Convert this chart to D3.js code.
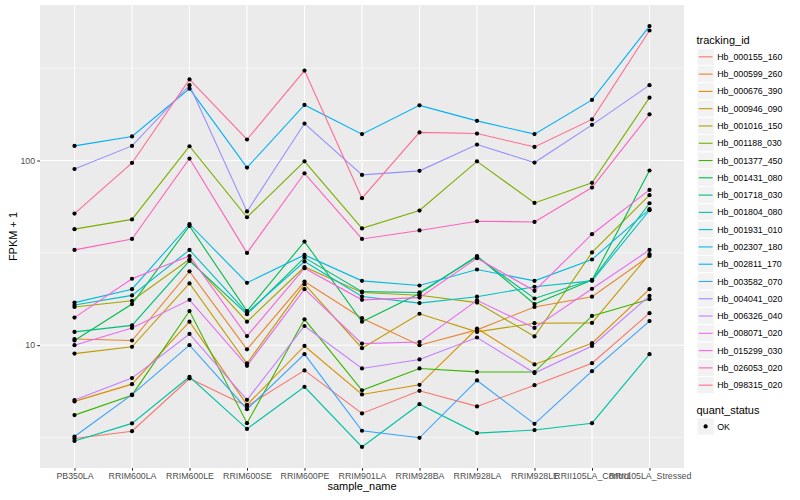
<!DOCTYPE html>
<html><head><meta charset="utf-8">
<script src="https://cdn.jsdelivr.net/npm/d3@7"></script>
<style>
body{margin:0;background:#fff}
svg{display:block}
text{font-family:"Liberation Sans",Arial,Helvetica,sans-serif}
</style>
</head><body>
<svg id="chart" width="800" height="500"></svg>
<script>
// ---------- data ----------
const categories = ["PB350LA","RRIM600LA","RRIM600LE","RRIM600SE","RRIM600PE","RRIM901LA",
  "RRIM928BA","RRIM928LA","RRIM928LE","RRII105LA_Control","RRII105LA_Stressed"];

const trackingIds = ["Hb_000155_160","Hb_000599_260","Hb_000676_390","Hb_000946_090","Hb_001016_150",
  "Hb_001188_030","Hb_001377_450","Hb_001431_080","Hb_001718_030","Hb_001804_080","Hb_001931_010",
  "Hb_002307_180","Hb_002811_170","Hb_003582_070","Hb_004041_020","Hb_006326_040","Hb_008071_020",
  "Hb_015299_030","Hb_026053_020","Hb_098315_020"];

const Hb_000155_160 = [3.12, 3.42, 6.6, 4.67, 7.3, 4.27, 5.66, 4.66, 6.07, 7.99, 14.9];
const Hb_000599_260 = [10.8, 10.6, 25.1, 9.5, 22.1, 14.0, 10.0, 12.1, 16.1, 18.3, 30.4];
const Hb_000676_390 = [4.96, 6.15, 13.4, 4.75, 9.9, 5.41, 6.1, 12.3, 7.86, 10.25, 20.1];
const Hb_000946_090 = [9.0, 9.8, 21.6, 7.96, 21.4, 9.63, 14.8, 11.8, 13.15, 13.2, 31.1];
const Hb_001016_150 = [16.1, 17.4, 29.2, 13.4, 26.5, 19.3, 18.65, 17.0, 11.15, 31.8, 64.9];
const Hb_001188_030 = [42.5, 48, 119.5, 49.3, 99, 42.9, 53.6, 99, 58.9, 75.7, 219];
const Hb_001377_450 = [4.18, 5.36, 15.3, 3.78, 13.8, 5.7, 7.48, 7.17, 7.15, 14.4, 17.75];
const Hb_001431_080 = [10.6, 16.7, 44.2, 15.3, 36.4, 13.4, 19.05, 30.4, 16.7, 22.5, 88.3];
const Hb_001718_030 = [11.8, 12.8, 28.6, 14.7, 29.8, 19.5, 19.3, 30.1, 17.9, 22.6, 58.7];
const Hb_001804_080 = [3.03, 3.77, 6.74, 3.52, 5.95, 2.81, 4.79, 3.34, 3.47, 3.78, 8.94];
const Hb_001931_010 = [16.5, 18.6, 32.8, 15.0, 28.4, 18.35, 16.9, 18.3, 20.7, 22.3, 53.8];
const Hb_002307_180 = [17.0, 20.1, 45.2, 21.75, 30.8, 22.3, 21.05, 25.7, 22.3, 29.1, 54.5];
const Hb_002811_170 = [120, 135, 245, 91.6, 200, 139, 199, 164, 139, 213, 535];
const Hb_003582_070 = [3.2, 5.4, 10.0, 4.5, 8.94, 3.44, 3.15, 6.44, 3.75, 7.23, 13.5];
const Hb_004041_020 = [90, 120, 256, 53, 158.6, 83.6, 87.9, 122, 97.5, 156, 256];
const Hb_006326_040 = [5.04, 6.63, 11.5, 5.06, 12.7, 7.48, 8.37, 11.0, 7.06, 9.9, 18.5];
const Hb_008071_020 = [10.0, 12.4, 17.6, 7.73, 20.1, 10.2, 10.4, 17.5, 12.4, 20.2, 32.8];
const Hb_015299_030 = [14.1, 22.9, 30.4, 11.2, 26.1, 17.6, 18.1, 29.6, 19.7, 39.9, 69.3];
const Hb_026053_020 = [32.8, 37.6, 102.5, 31.6, 85.3, 37.6, 41.8, 46.9, 46.5, 71.4, 178];
const Hb_098315_020 = [51.6, 97, 275, 130, 307, 62.5, 142, 140, 118.5, 167, 506];

const seriesValues = [Hb_000155_160, Hb_000599_260, Hb_000676_390, Hb_000946_090, Hb_001016_150,
  Hb_001188_030, Hb_001377_450, Hb_001431_080, Hb_001718_030, Hb_001804_080, Hb_001931_010,
  Hb_002307_180, Hb_002811_170, Hb_003582_070, Hb_004041_020, Hb_006326_040, Hb_008071_020,
  Hb_015299_030, Hb_026053_020, Hb_098315_020];

const yTickValues = [10, 100];
const quantStatus = ["OK"];

const palette = ["#F8766D","#EA8331","#D89000","#C09B00","#A3A500","#7CAE00","#39B600","#00BB4E",
  "#00BF7D","#00C1A3","#00BFC4","#00BAE0","#00B0F6","#35A2FF","#9590FF","#C77CFF","#E76BF3",
  "#FA62DB","#FF62BC","#FF6C91"];

// ---------- layout ----------
const P = {left: 40, right: 684, top: 5, bottom: 468};
const svg = d3.select("#chart");

const all = seriesValues.flat();
const lmin = Math.log10(d3.min(all)), lmax = Math.log10(d3.max(all));
const pad = (lmax - lmin) * 0.05;
const y = d3.scaleLog().domain([Math.pow(10, lmin - pad), Math.pow(10, lmax + pad)]).range([P.bottom, P.top]);
const x = d3.scalePoint().domain(categories).range([P.left, P.right]).padding(0.6);
const color = d3.scaleOrdinal().domain(trackingIds).range(palette);

// panel
svg.append("rect").attr("x", P.left).attr("y", P.top)
  .attr("width", P.right - P.left).attr("height", P.bottom - P.top).attr("fill", "#EBEBEB");

// minor grid (midpoints in log space)
const d0 = Math.floor(lmin - pad), d1 = Math.ceil(lmax + pad);
const minor = d3.range(d0, d1).map(k => Math.pow(10, k + 0.5)).filter(v => y(v) > P.top && y(v) < P.bottom);
svg.append("g").selectAll("line").data(minor).join("line")
  .attr("x1", P.left).attr("x2", P.right).attr("y1", d => y(d)).attr("y2", d => y(d))
  .attr("stroke", "#fff").attr("stroke-width", 0.53);
// major grid
svg.append("g").selectAll("line").data(yTickValues).join("line")
  .attr("x1", P.left).attr("x2", P.right).attr("y1", d => y(d)).attr("y2", d => y(d))
  .attr("stroke", "#fff").attr("stroke-width", 1.07);
svg.append("g").selectAll("line").data(categories).join("line")
  .attr("x1", d => x(d)).attr("x2", d => x(d)).attr("y1", P.top).attr("y2", P.bottom)
  .attr("stroke", "#fff").attr("stroke-width", 1.07);

// lines
const line = d3.line().x((d, i) => x(categories[i])).y(d => y(d));
svg.append("g").selectAll("path").data(seriesValues).join("path")
  .attr("d", d => line(d)).attr("fill", "none")
  .attr("stroke", (d, i) => color(trackingIds[i])).attr("stroke-width", 1.1);

// points
const pts = [];
seriesValues.forEach((s, si) => s.forEach((v, i) => pts.push({cat: categories[i], v})));
svg.append("g").selectAll("circle").data(pts).join("circle")
  .attr("cx", d => x(d.cat)).attr("cy", d => y(d.v)).attr("r", 2.1).attr("fill", "#000");

// axes
const yAxis = svg.append("g").attr("transform", `translate(${P.left},0)`)
  .call(d3.axisLeft(y).tickValues(yTickValues).tickFormat(d3.format("d")).tickSize(2.75).tickPadding(2.2));
const xAxis = svg.append("g").attr("transform", `translate(0,${P.bottom})`)
  .call(d3.axisBottom(x).tickSize(2.75).tickPadding(2.2));
[yAxis, xAxis].forEach(a => {
  a.select(".domain").remove();
  a.selectAll(".tick line").attr("stroke", "#333333").attr("stroke-width", 1.07);
  a.selectAll(".tick text").attr("fill", "#4D4D4D").attr("font-size", "8.8px")
    .attr("font-family", '"Liberation Sans",Arial,sans-serif');
});

// axis titles
svg.append("text").attr("x", (P.left + P.right) / 2).attr("y", 490).attr("text-anchor", "middle")
  .attr("font-size", "11px").attr("fill", "#000").text("sample_name");
svg.append("text").attr("transform", `translate(16.5,${(P.top + P.bottom) / 2}) rotate(-90)`)
  .attr("text-anchor", "middle").attr("font-size", "11px").attr("fill", "#000").text("FPKM + 1");

// legend: tracking_id
const Lx = 697, keyS = 17.28, L0 = 48.2;
svg.append("text").attr("x", Lx - 0.5).attr("y", 43.5).attr("font-size", "11px").attr("fill", "#000").text("tracking_id");
const lg = svg.append("g");
const items = lg.selectAll("g").data(trackingIds).join("g")
  .attr("transform", (d, i) => `translate(${Lx},${L0 + i * keyS})`);
items.append("rect").attr("width", keyS).attr("height", keyS).attr("fill", "#F2F2F2")
  .attr("stroke", "#fff").attr("stroke-width", 1);
items.append("line").attr("x1", 1.7).attr("x2", keyS - 1.7).attr("y1", keyS / 2).attr("y2", keyS / 2)
  .attr("stroke", d => color(d)).attr("stroke-width", 1.1);
items.append("text").attr("x", keyS + 3).attr("y", keyS / 2 + 3.1).attr("font-size", "8.8px")
  .attr("fill", "#000").text(d => d);

// legend: quant_status
const Q0 = L0 + trackingIds.length * keyS + 11;
svg.append("text").attr("x", Lx - 0.5).attr("y", Q0 + 9).attr("font-size", "11px").attr("fill", "#000").text("quant_status");
const qg = svg.append("g").selectAll("g").data(quantStatus).join("g")
  .attr("transform", (d, i) => `translate(${Lx},${Q0 + 13 + i * keyS})`);
qg.append("rect").attr("width", keyS).attr("height", keyS).attr("fill", "#F2F2F2")
  .attr("stroke", "#fff").attr("stroke-width", 1);
qg.append("circle").attr("cx", keyS / 2).attr("cy", keyS / 2).attr("r", 2.1).attr("fill", "#000");
qg.append("text").attr("x", keyS + 3).attr("y", keyS / 2 + 3.1).attr("font-size", "8.8px")
  .attr("fill", "#000").text(d => d);
</script>
</body></html>
